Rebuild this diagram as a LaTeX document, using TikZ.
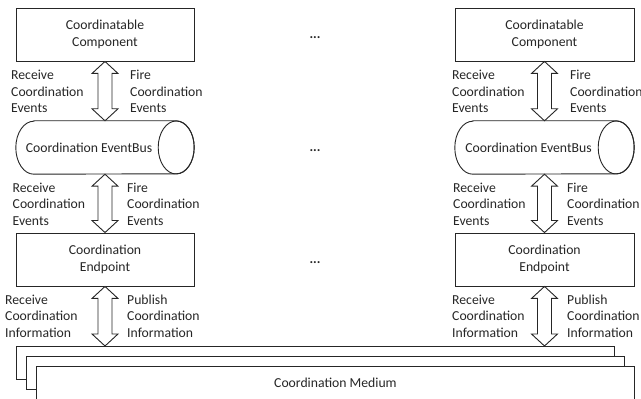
\documentclass[tikz,border=0pt]{standalone}
\usepackage{fontspec}
\setmainfont{Carlito}
\usetikzlibrary{calc}

\tikzset{
  ink/.style={draw=black!85, line width=0.9pt},
  blockbox/.style={ink, fill=white, minimum width=178pt, minimum height=53pt,
    align=center, inner sep=0pt, text=black!85},
  busshape/.style={draw=none, minimum width=178pt, minimum height=53pt, inner sep=0pt},
  sidetext/.style={anchor=west, align=left, inner sep=0pt, text=black!85},
  plaintext/.style={inner sep=0pt, text=black!85},
  dotstext/.style={inner sep=0pt, text=black!85, anchor=base, font=\fontsize{13.7}{16.5}\selectfont\bfseries},
  stackrect/.style={ink, fill=white, minimum width=598pt, minimum height=33pt, inner sep=0pt},
}

% double-headed block arrow from the top point #1 down to the bottom point #2
\newcommand\flowarrow[2]{%
  \draw[ink, fill=white] (#1) -- ++(-13,-12) -- ++(6,0) -- ($(#2)+(-7,12)$)
    -- ++(-6,0) -- (#2) -- ++(13,12) -- ++(-6,0) -- ($(#1)+(7,-12)$)
    -- ++(6,0) -- cycle;}

% cylinder outline around an empty shape node
\newcommand\busoutline[1]{%
  \draw[ink, fill=white] ([xshift=18pt]#1.north west) -- ([xshift=-18pt]#1.north east)
    arc[start angle=90, end angle=-90, x radius=18, y radius=26.5]
    -- ([xshift=18pt]#1.south west)
    arc[start angle=270, end angle=90, x radius=18, y radius=26.5] -- cycle;
  \draw[ink] ([xshift=-18pt]#1.east) ellipse [x radius=18, y radius=26.5];}

\begin{document}
\begin{tikzpicture}[x=1pt, y=1pt, font=\fontsize{13.7}{16.5}\selectfont]
\useasboundingbox (0,0) rectangle (641,399);

% coordination medium (stacked layers)
\node[stackrect, anchor=north west] (med1) at (16,53) {};
\node[stackrect, anchor=north west] (med2) at (26,43) {};
\node[stackrect, anchor=north west] (med3) at (36,33) {};
\node[plaintext] (medlabel) at (med3.center) {Coordination Medium};

% left column
\node[blockbox] (compL) at (105,364.5) {Coordinatable\\Component};
\node[busshape] (busL) at (105,251.5) {};
\busoutline{busL}
\node[plaintext] (busLtext) at ([xshift=-16pt]busL.center) {Coordination EventBus};
\node[blockbox] (endL) at (105,139.5) {Coordination\\Endpoint};
\coordinate (medL) at (endL.south |- med1.north);

\flowarrow{compL.south}{busL.north}
\flowarrow{busL.south}{endL.north}
\flowarrow{endL.south}{medL}

\node[sidetext] (rcvL1) at (11,307.5) {Receive\\Coordination\\Events};
\node[sidetext] (fireL1) at (130,307.5) {Fire\\Coordination\\Events};
\node[sidetext] (rcvL2) at (12.5,195) {Receive\\Coordination\\Events};
\node[sidetext] (fireL2) at (127,195) {Fire\\Coordination\\Events};
\node[sidetext] (rcvL3) at (5,83) {Receive\\Coordination\\Information};
\node[sidetext] (pubL3) at (127,83) {Publish\\Coordination\\Information};

% right column
\node[blockbox, minimum width=179pt] (compR) at (544.5,364.5) {Coordinatable\\Component};
\node[busshape, minimum width=179pt] (busR) at (544.5,251.5) {};
\busoutline{busR}
\node[plaintext] (busRtext) at ([xshift=-16pt]busR.center) {Coordination EventBus};
\node[blockbox, minimum width=179pt] (endR) at (544.5,139.5) {Coordination\\Endpoint};
\coordinate (medR) at (endR.south |- med1.north);

\flowarrow{compR.south}{busR.north}
\flowarrow{busR.south}{endR.north}
\flowarrow{endR.south}{medR}

\node[sidetext] (rcvR1) at (452,307.5) {Receive\\Coordination\\Events};
\node[sidetext] (fireR1) at (570,307.5) {Fire\\Coordination\\Events};
\node[sidetext] (rcvR2) at (453,195) {Receive\\Coordination\\Events};
\node[sidetext] (fireR2) at (567,195) {Fire\\Coordination\\Events};
\node[sidetext] (rcvR3) at (452,83) {Receive\\Coordination\\Information};
\node[sidetext] (pubR3) at (567,83) {Publish\\Coordination\\Information};

% ellipses between the columns
\node[dotstext] (dots1) at (315,360) {...};
\node[dotstext] (dots2) at (315,247) {...};
\node[dotstext] (dots3) at (315,135) {...};
\end{tikzpicture}
\end{document}
